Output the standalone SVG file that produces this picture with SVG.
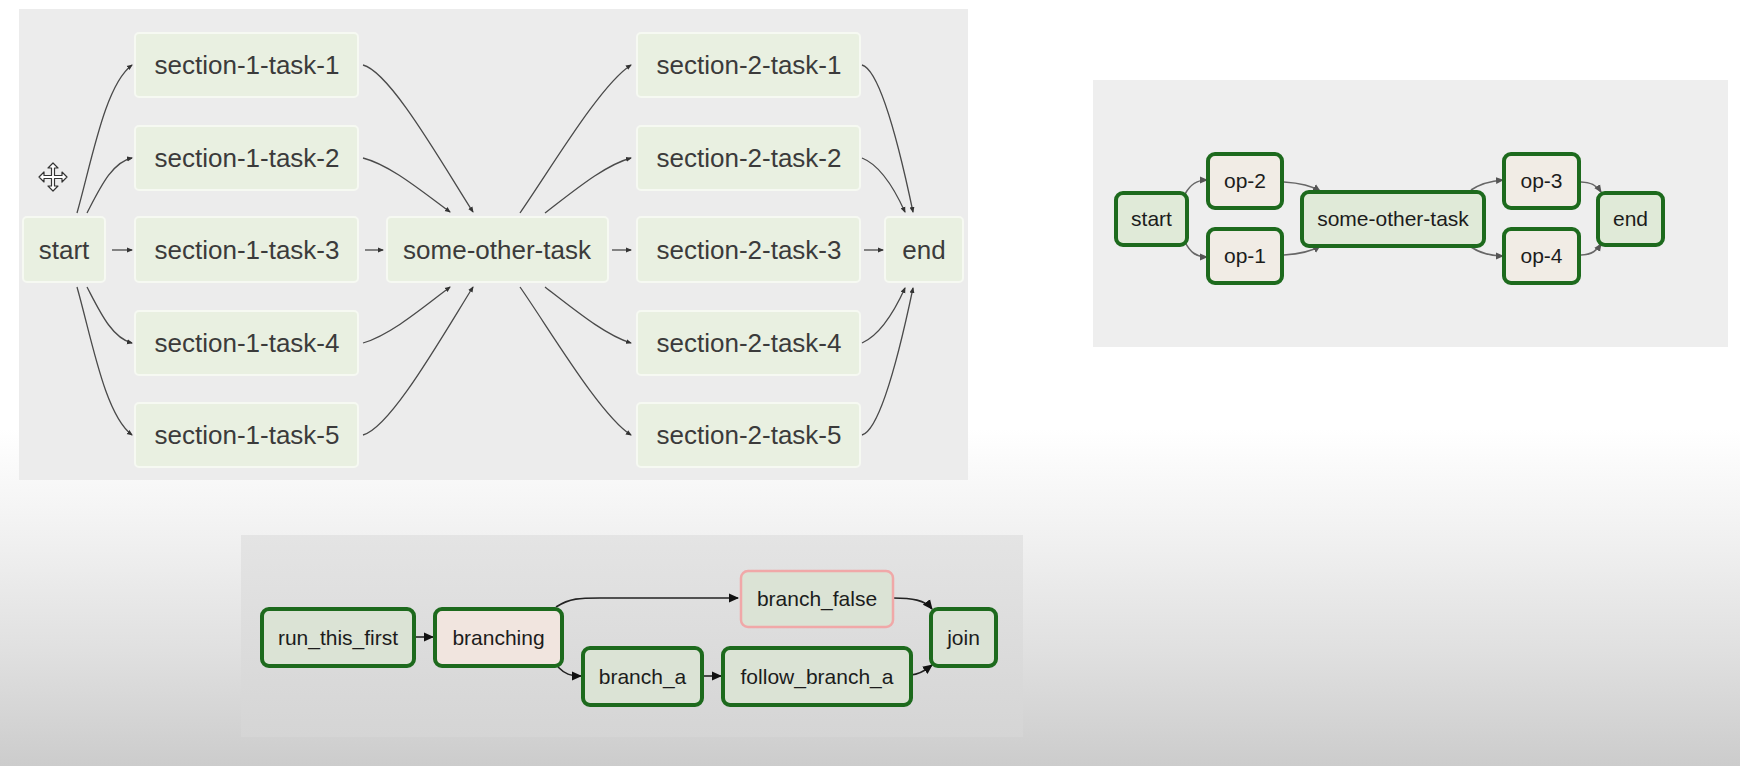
<svg xmlns="http://www.w3.org/2000/svg" width="1740" height="766" viewBox="0 0 1740 766">
<defs>
<linearGradient id="bg" x1="0" y1="0" x2="0" y2="1">
<stop offset="0" stop-color="#ffffff"/>
<stop offset="0.56" stop-color="#ffffff"/>
<stop offset="0.7" stop-color="#f1f1f1"/>
<stop offset="0.85" stop-color="#e0e0e0"/>
<stop offset="1" stop-color="#cccccc"/>
</linearGradient>
<linearGradient id="pbot" x1="0" y1="0" x2="0" y2="1">
<stop offset="0" stop-color="#e4e4e4"/>
<stop offset="1" stop-color="#d5d5d5"/>
</linearGradient>
<marker id="dot" viewBox="0 0 6 6" refX="5" refY="3" markerWidth="6" markerHeight="6" markerUnits="userSpaceOnUse" orient="auto">
<path d="M0,0.5 L6,3 L0,5.5 Z" fill="#333"/>
</marker>
<marker id="gray" viewBox="0 0 8 8" refX="7" refY="4" markerWidth="8" markerHeight="8" markerUnits="userSpaceOnUse" orient="auto">
<path d="M0,0.5 L8,4 L0,7.5 Z" fill="#555"/>
</marker>
<marker id="blk" viewBox="0 0 10 10" refX="9" refY="5" markerWidth="10" markerHeight="10" markerUnits="userSpaceOnUse" orient="auto">
<path d="M0,0.5 L10,5 L0,9.5 Z" fill="#111"/>
</marker>
<style>
.t1 { font-family: "Liberation Sans", Arial, sans-serif; font-size: 26px; fill: #3b3b3b; text-anchor: middle; }
.t2 { font-family: "Liberation Sans", Arial, sans-serif; font-size: 21px; fill: #1c1c1c; text-anchor: middle; }
.n1 { fill: #e9f0e1; stroke: #f6f9f2; stroke-width: 2; }
.ng { stroke: #1d6a1d; stroke-width: 4; }
.fg { fill: #e0ead8; }
.fb { fill: #f1ece5; }
.fp { fill: #f1e5df; }
.fbot { fill: #dbe3d5; }
.e1 { fill: none; stroke: #4a4a4a; stroke-width: 1.3; marker-end: url(#dot); }
.e2 { fill: none; stroke: #666; stroke-width: 1.6; marker-end: url(#gray); }
.e3 { fill: none; stroke: #222; stroke-width: 1.6; marker-end: url(#blk); }
</style>
</defs>
<rect x="0" y="0" width="1740" height="766" fill="url(#bg)"/>
<rect id="panel-1" x="19" y="9" width="949" height="471" fill="#ececec"/>
<rect id="panel-2" x="1093" y="80" width="635" height="267" fill="#eeeeee"/>
<rect id="panel-3" x="241" y="535" width="782" height="202" fill="url(#pbot)"/>

<g id="connectors">
<path class="e1" d="M77,213 C92,160 105,85 132,65"/>
<path class="e1" d="M87,213 C100,188 112,162 132,158"/>
<path class="e1" d="M112,250 L132,250"/>
<path class="e1" d="M87,287 C100,312 112,338 132,343"/>
<path class="e1" d="M77,287 C92,340 105,415 132,435"/>
<path class="e1" d="M363,65 C390,72 440,160 473,212"/>
<path class="e1" d="M363,158 C390,165 420,190 450,212"/>
<path class="e1" d="M365,250 L383,250"/>
<path class="e1" d="M363,343 C390,335 420,310 450,287"/>
<path class="e1" d="M363,435 C390,428 440,340 473,287"/>
<path class="e1" d="M520,213 C550,170 600,85 631,65"/>
<path class="e1" d="M545,213 C575,190 605,165 631,158"/>
<path class="e1" d="M612,250 L631,250"/>
<path class="e1" d="M545,287 C575,310 605,335 631,343"/>
<path class="e1" d="M520,287 C550,330 600,415 631,435"/>
<path class="e1" d="M862,65 C880,70 900,150 913,212"/>
<path class="e1" d="M862,158 C880,165 895,190 905,212"/>
<path class="e1" d="M864,250 L883,250"/>
<path class="e1" d="M862,343 C880,335 895,310 905,288"/>
<path class="e1" d="M862,435 C880,430 900,350 913,288"/>

<path class="e2" d="M1185,194 C1190,185 1196,180 1207,180"/>
<path class="e2" d="M1185,242 C1190,252 1196,257 1207,257"/>
<path class="e2" d="M1284,182 C1300,183 1312,186 1320,191"/>
<path class="e2" d="M1284,255 C1300,254 1312,251 1320,246"/>
<path class="e2" d="M1471,190 C1480,184 1490,181 1503,180"/>
<path class="e2" d="M1471,247 C1480,253 1490,256 1503,256"/>
<path class="e2" d="M1581,182 C1592,182 1597,186 1601,192"/>
<path class="e2" d="M1581,255 C1592,255 1597,250 1601,244"/>

<path class="e3" d="M414,637 L433,637"/>
<path class="e3" d="M556,607 C570,598 580,598 600,598 L738,598"/>
<path class="e3" d="M558,667 C565,674 570,676 581,676"/>
<path class="e3" d="M704,676 L721,676"/>
<path class="e3" d="M893,598 C912,598 925,600 932,609"/>
<path class="e3" d="M911,675 C922,674 928,668 932,665"/>
</g>

<g id="n-start"><rect class="n1" x="23" y="217" width="82" height="65" rx="4"/><text class="t1" x="64" y="259">start</text></g>
<g id="n-s1t1"><rect class="n1" x="135" y="33" width="223" height="64" rx="4"/><text class="t1" x="247" y="74">section-1-task-1</text></g>
<g id="n-s1t2"><rect class="n1" x="135" y="126" width="223" height="64" rx="4"/><text class="t1" x="247" y="167">section-1-task-2</text></g>
<g id="n-s1t3"><rect class="n1" x="135" y="217" width="223" height="65" rx="4"/><text class="t1" x="247" y="259">section-1-task-3</text></g>
<g id="n-s1t4"><rect class="n1" x="135" y="311" width="223" height="64" rx="4"/><text class="t1" x="247" y="352">section-1-task-4</text></g>
<g id="n-s1t5"><rect class="n1" x="135" y="403" width="223" height="64" rx="4"/><text class="t1" x="247" y="444">section-1-task-5</text></g>
<g id="n-some"><rect class="n1" x="387" y="217" width="221" height="65" rx="4"/><text class="t1" x="497" y="259">some-other-task</text></g>
<g id="n-s2t1"><rect class="n1" x="637" y="33" width="223" height="64" rx="4"/><text class="t1" x="749" y="74">section-2-task-1</text></g>
<g id="n-s2t2"><rect class="n1" x="637" y="126" width="223" height="64" rx="4"/><text class="t1" x="749" y="167">section-2-task-2</text></g>
<g id="n-s2t3"><rect class="n1" x="637" y="217" width="223" height="65" rx="4"/><text class="t1" x="749" y="259">section-2-task-3</text></g>
<g id="n-s2t4"><rect class="n1" x="637" y="311" width="223" height="64" rx="4"/><text class="t1" x="749" y="352">section-2-task-4</text></g>
<g id="n-s2t5"><rect class="n1" x="637" y="403" width="223" height="64" rx="4"/><text class="t1" x="749" y="444">section-2-task-5</text></g>
<g id="n-end"><rect class="n1" x="885" y="217" width="78" height="65" rx="4"/><text class="t1" x="924" y="259">end</text></g>

<g id="cursor"><polygon points="53,163 58,168 54.5,168 54.5,175.5 62,175.5 62,172 67,177 62,182 62,178.5 54.5,178.5 54.5,186 58,186 53,191 48,186 51.5,186 51.5,178.5 44,178.5 44,182 39,177 44,172 44,175.5 51.5,175.5 51.5,168 48,168" fill="#fff" stroke="#333" stroke-width="1.2" stroke-linejoin="round"/></g>

<g id="r-start"><rect class="ng fg" x="1116" y="193" width="71" height="52" rx="7"/><text class="t2" x="1151.5" y="226">start</text></g>
<g id="r-op2"><rect class="ng fb" x="1208" y="154" width="74" height="54" rx="7"/><text class="t2" x="1245" y="188">op-2</text></g>
<g id="r-op1"><rect class="ng fb" x="1208" y="229" width="74" height="54" rx="7"/><text class="t2" x="1245" y="263">op-1</text></g>
<g id="r-some"><rect class="ng fg" x="1302" y="192" width="182" height="54" rx="7"/><text class="t2" x="1393" y="226">some-other-task</text></g>
<g id="r-op3"><rect class="ng fb" x="1504" y="154" width="75" height="54" rx="7"/><text class="t2" x="1541.5" y="188">op-3</text></g>
<g id="r-op4"><rect class="ng fb" x="1504" y="229" width="75" height="54" rx="7"/><text class="t2" x="1541.5" y="263">op-4</text></g>
<g id="r-end"><rect class="ng fg" x="1598" y="193" width="65" height="52" rx="7"/><text class="t2" x="1630.5" y="226">end</text></g>

<g id="b-run"><rect class="ng fbot" x="262" y="609" width="152" height="57" rx="7"/><text class="t2" x="338" y="645">run_this_first</text></g>
<g id="b-branching"><rect class="ng fp" x="435" y="609" width="127" height="57" rx="7"/><text class="t2" x="498.5" y="645">branching</text></g>
<g id="b-false"><rect class="fbot" x="741" y="571" width="152" height="56" rx="7" stroke="#f0a8a8" stroke-width="2.5"/><text class="t2" x="817" y="606">branch_false</text></g>
<g id="b-a"><rect class="ng fbot" x="583" y="648" width="119" height="57" rx="7"/><text class="t2" x="642.5" y="684">branch_a</text></g>
<g id="b-follow"><rect class="ng fbot" x="723" y="648" width="188" height="57" rx="7"/><text class="t2" x="817" y="684">follow_branch_a</text></g>
<g id="b-join"><rect class="ng fbot" x="931" y="609" width="65" height="57" rx="7"/><text class="t2" x="963.5" y="645">join</text></g>
</svg>
